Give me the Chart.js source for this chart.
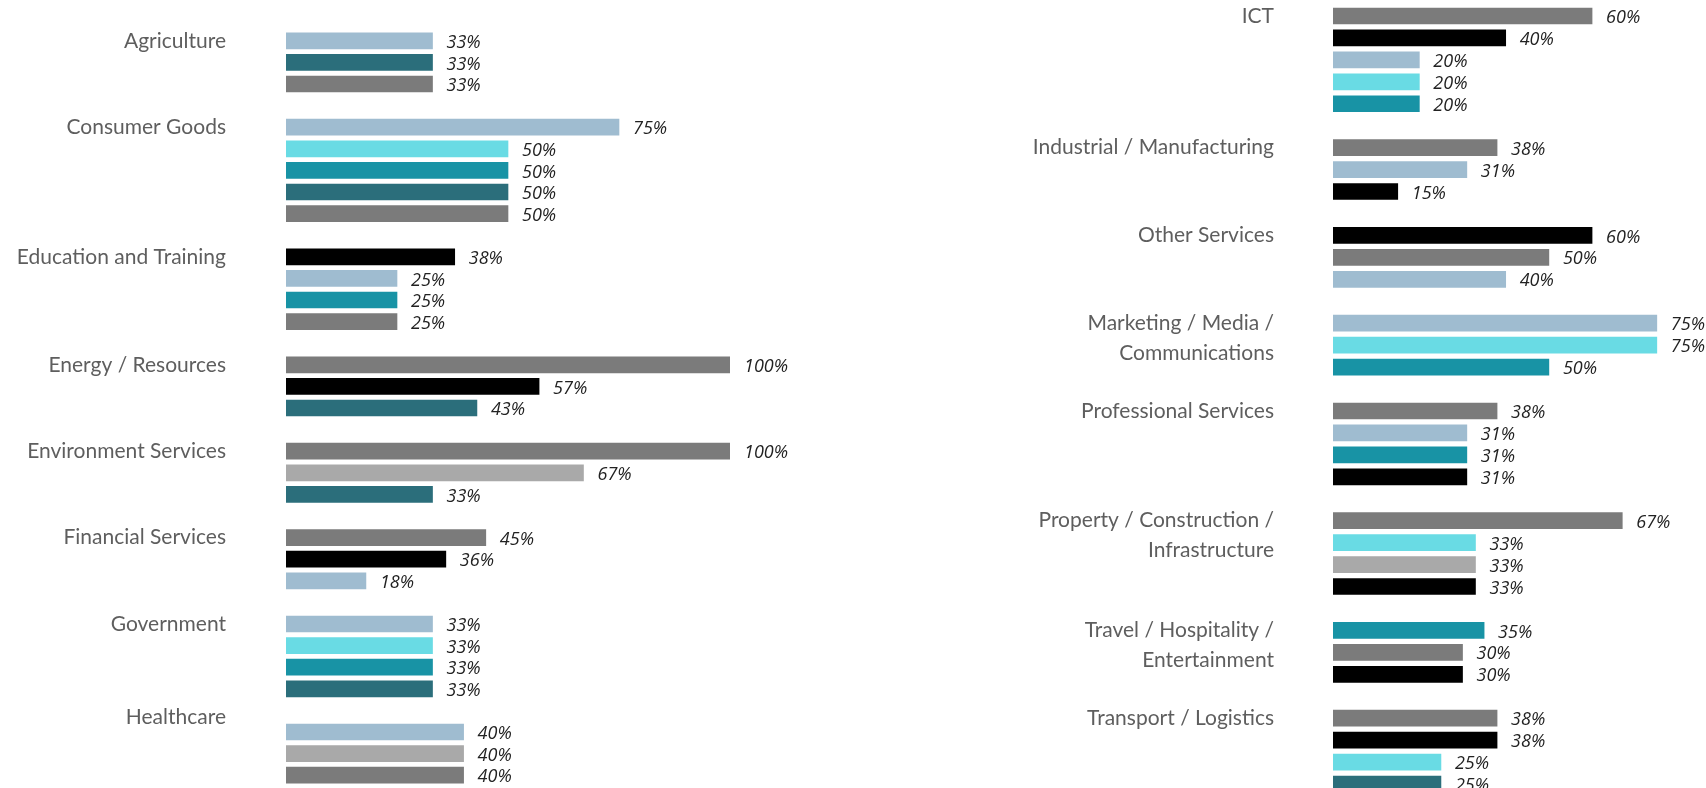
<!DOCTYPE html>
<html>
<head>
<meta charset="utf-8">
<script src="https://cdn.jsdelivr.net/npm/chart.js@4.4.0/dist/chart.umd.min.js"></script>
<style>
    html, body { margin: 0; padding: 0; background: #fff; overflow: hidden; }
    .panel { position: absolute; top: 0; width: 853px; height: 800px; }
    #leftPanel { left: 0; }
    #rightPanel { left: 853px; }
</style>
</head>
<body>
<div class="panel" id="leftPanel"><canvas id="leftChart" width="853" height="800"></canvas></div>
<div class="panel" id="rightPanel"><canvas id="rightChart" width="853" height="800"></canvas></div>
<script>
'use strict';

// left column
const leftCategories = ['Agriculture', 'Consumer Goods', 'Education and Training', 'Energy / Resources',
    'Environment Services', 'Financial Services', 'Government', 'Healthcare'];
const leftValues = [
    [33, 33, 33],
    [75, 50, 50, 50, 50],
    [38, 25, 25, 25],
    [100, 57, 43],
    [100, 67, 33],
    [45, 36, 18],
    [33, 33, 33, 33],
    [40, 40, 40]
];
const leftSeries = [
    ['blue', 'deep', 'grey'],
    ['blue', 'cyan', 'teal', 'deep', 'grey'],
    ['black', 'blue', 'teal', 'grey'],
    ['grey', 'black', 'deep'],
    ['grey', 'silver', 'deep'],
    ['grey', 'black', 'blue'],
    ['blue', 'cyan', 'teal', 'deep'],
    ['blue', 'silver', 'grey']
];

// right column
const rightCategories = ['ICT', 'Industrial / Manufacturing', 'Other Services',
    ['Marketing / Media /', 'Communications'], 'Professional Services',
    ['Property / Construction /', 'Infrastructure'], ['Travel / Hospitality /', 'Entertainment'],
    'Transport / Logistics'];
const rightValues = [
    [60, 40, 20, 20, 20],
    [38, 31, 15],
    [60, 50, 40],
    [75, 75, 50],
    [38, 31, 31, 31],
    [67, 33, 33, 33],
    [35, 30, 30],
    [38, 38, 25, 25]
];
const rightSeries = [
    ['grey', 'black', 'blue', 'cyan', 'teal'],
    ['grey', 'blue', 'black'],
    ['black', 'grey', 'blue'],
    ['blue', 'cyan', 'teal'],
    ['grey', 'blue', 'teal', 'black'],
    ['grey', 'cyan', 'silver', 'black'],
    ['teal', 'grey', 'black'],
    ['grey', 'black', 'cyan', 'deep']
];

// labels sitting a little above their first bar
const raisedLabels = ['Healthcare'];

const palette = {
    blue: '#9fbcd0',
    deep: '#2b6e7b',
    grey: '#7b7b7b',
    cyan: '#69dbe4',
    teal: '#1893a5',
    black: '#000000',
    silver: '#a9a9a9'
};

// one row per bar, an empty row between groups
function buildRows (categories, values, series) {
    let labels = [], data = [], colors = [];
    categories.forEach((cat, g) => {
        if (g > 0) {
            labels.push('');
            data.push(null);
            colors.push('transparent');
        }
        values[g].forEach((v, i) => {
            let label = '';
            if (i === 0) {
                if (Array.isArray(cat)) {
                    label = [''].concat(cat);
                }
                else if (raisedLabels.includes(cat)) {
                    label = [cat, ''];
                }
                else {
                    label = cat;
                }
            }
            labels.push(label);
            data.push(v);
            colors.push(palette[series[g][i]]);
        });
    });
    return { labels, data, colors };
}

const valueLabels = {
    id: 'valueLabels',
    afterDatasetsDraw(chart) {
        const ctx = chart.ctx;
        const meta = chart.getDatasetMeta(0);
        const data = chart.data.datasets[0].data;
        ctx.save();
        ctx.font = 'italic 400 18px "Open Sans"';
        ctx.fillStyle = '#222222';
        ctx.textAlign = 'left';
        ctx.textBaseline = 'middle';
        meta.data.forEach((bar, i) => {
            if (data[i] == null) {
                return;
            }
            ctx.fillText(data[i] + '%', bar.x + 14, bar.y + 2);
        });
        ctx.restore();
    }
};

function drawPanel (canvas, rows, opts) {
    return new Chart(canvas, {
        type: 'bar',
        data: {
            labels: rows.labels,
            datasets: [{
                data: rows.data,
                backgroundColor: rows.colors,
                borderWidth: 0,
                barThickness: 16
            }]
        },
        options: {
            indexAxis: 'y',
            responsive: false,
            animation: false,
            devicePixelRatio: 1,
            layout: {
                padding: { top: opts.top, bottom: opts.bottom, right: opts.right, left: 0 }
            },
            plugins: {
                legend: { display: false },
                tooltip: { enabled: false }
            },
            scales: {
                x: {
                    display: false,
                    min: 0,
                    max: opts.max
                },
                y: {
                    grid: { display: false, drawTicks: false },
                    border: { display: false },
                    ticks: {
                        autoSkip: false,
                        padding: opts.padding,
                        color: '#5e5e5e',
                        font: { family: 'Lato', size: 21, lineHeight: 1.43 }
                    },
                    afterFit: (scale) => {
                        scale.width = opts.axisWidth;
                        scale.paddingTop = 0;
                        scale.paddingBottom = 0;
                    }
                }
            }
        },
        plugins: [valueLabels]
    });
}

drawPanel(document.getElementById('leftChart'),
    buildRows(leftCategories, leftValues, leftSeries),
    { top: 30, bottom: 14, right: 123, max: 100, padding: 60, axisWidth: 286 });

drawPanel(document.getElementById('rightChart'),
    buildRows(rightCategories, rightValues, rightSeries),
    { top: 5, bottom: 5, right: 6, max: 85, padding: 59, axisWidth: 480 });
</script>
</body>
</html>
